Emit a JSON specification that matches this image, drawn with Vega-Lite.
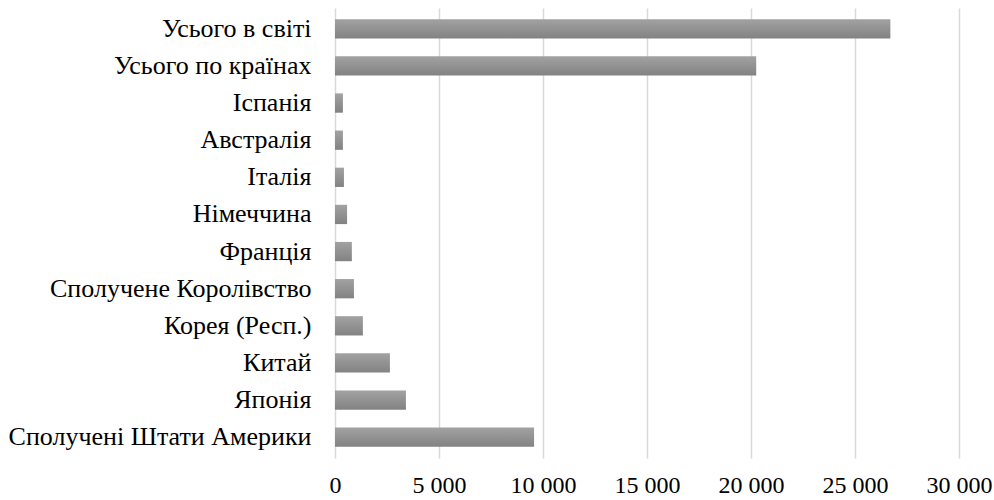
{
  "$schema": "https://vega.github.io/schema/vega-lite/v6.json",
  "autosize": {"type": "none"},
  "padding": {"left": 335, "top": 8, "right": 35, "bottom": 42},
  "width": 624,
  "height": 450,
  "background": "white",
  "data": {
    "values": [
      {"country": "Усього в світі", "value": 26700},
      {"country": "Усього по країнах", "value": 20250},
      {"country": "Іспанія", "value": 380},
      {"country": "Австралія", "value": 380},
      {"country": "Італія", "value": 430},
      {"country": "Німеччина", "value": 580},
      {"country": "Франція", "value": 810},
      {"country": "Сполучене Королівство", "value": 910},
      {"country": "Корея (Респ.)", "value": 1340},
      {"country": "Китай", "value": 2640},
      {"country": "Японія", "value": 3410},
      {"country": "Сполучені Штати Америки", "value": 9570}
    ]
  },
  "mark": {
    "type": "bar",
    "color": {
      "gradient": "linear",
      "x1": 0, "y1": 0, "x2": 0, "y2": 1,
      "stops": [
        {"offset": 0, "color": "#a2a2a2"},
        {"offset": 1, "color": "#828282"}
      ]
    }
  },
  "encoding": {
    "y": {
      "field": "country",
      "type": "nominal",
      "sort": null,
      "title": null,
      "scale": {"paddingInner": 0.48, "paddingOuter": 0.3},
      "axis": {
        "domain": false,
        "ticks": false,
        "labelFont": "Times New Roman",
        "labelFontSize": 26,
        "labelColor": "#000000",
        "labelPadding": 24,
        "labelLimit": 400
      }
    },
    "x": {
      "field": "value",
      "type": "quantitative",
      "title": null,
      "scale": {"domain": [0, 30000], "nice": false},
      "axis": {
        "values": [0, 5000, 10000, 15000, 20000, 25000, 30000],
        "labelExpr": "replace(format(datum.value, ','), ',', ' ')",
        "domain": false,
        "ticks": false,
        "grid": true,
        "gridColor": "#d9d9d9",
        "gridWidth": 1.5,
        "labelFont": "serif",
        "labelFontSize": 24,
        "labelColor": "#000000",
        "labelPadding": 15,
        "labelFlush": false
      }
    }
  },
  "config": {"view": {"stroke": null}}
}
